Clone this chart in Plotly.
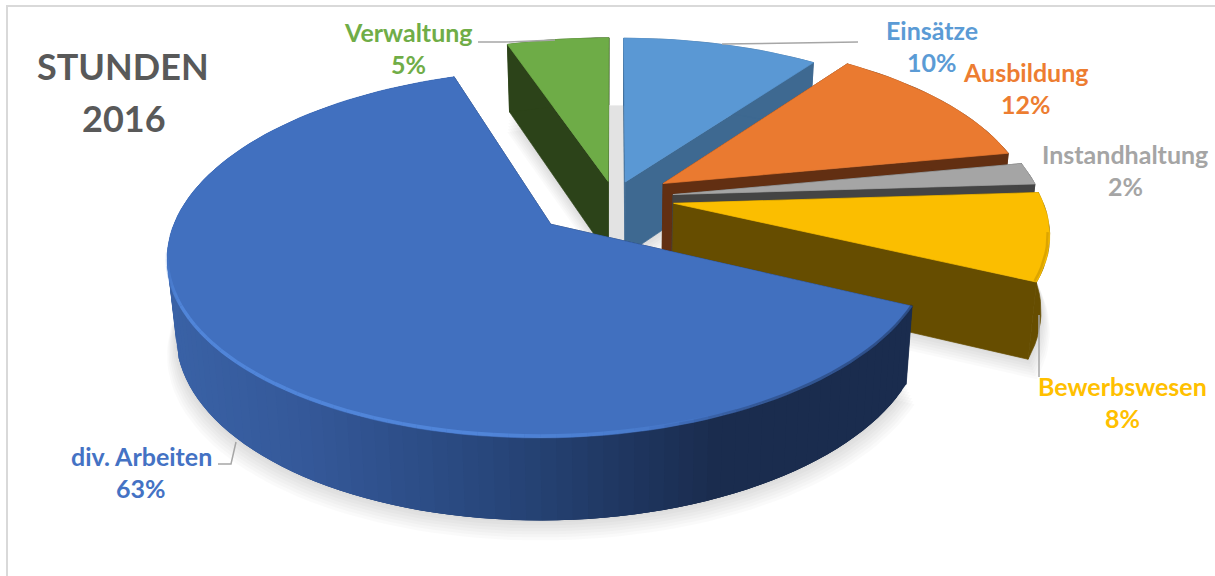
import numpy as np
import plotly.graph_objects as go

categories = ["Einsätze", "Ausbildung", "Instandhaltung", "Bewerbswesen", "div. Arbeiten", "Verwaltung"]
values = [10, 12, 2, 8, 62.8, 5.2]
title_lines = ["STUNDEN", "2016"]
top_colors = ["#5a98d4", "#ea7a30", "#a5a5a5", "#fbbe00", "#4170bf", "#6eac47"]
wall_colors = ["#3e6991", "#622f12", "#444444", "#664d00", "#1a2c4e", "#2c4319"]
label_colors = ["#5b9bd5", "#ed7d31", "#a5a5a5", "#ffc000", "#4472c4", "#70ad47"]
explode = [0.10, 0.16, 0.162, 0.164, 0.225, 0.10]
draw_order = [5, 0, 1, 2, 3, 4]
label_pos = [(932, 30), (1026, 72), (1125, 154), (1122, 386), (141, 456), (408, 32)]

# projection of the tilted pie onto the page
CX, CY, RX, RY, K = 614, 198, 368, 171, 0.157
H, K2, SB = 74, 0.09, 0.98


def project(u, v, bottom=False):
    u, v = np.asarray(u, float), np.asarray(v, float)
    w = 1 + K * v
    x = RX * u / w
    y = -RY * v / w
    if bottom:
        x = x * SB
        y = y + H / (1 + K2 * v)
    return CX + x, CY + y


def hex2rgb(c):
    return np.array([int(c[i:i + 2], 16) for i in (1, 3, 5)], float)


def poly(x, y, color, name=None, lw=0.7):
    x, y = list(x), list(y)
    return go.Scatter(x=x + x[:1], y=y + y[:1], mode="lines", fill="toself", fillcolor=color,
                      line=dict(color=color, width=lw), hoverinfo="skip", showlegend=False,
                      name=name)


def stroke(x, y, color, width):
    return go.Scatter(x=list(x), y=list(y), mode="lines", line=dict(color=color, width=width),
                      hoverinfo="skip", showlegend=False)


total = sum(values)
edges = np.cumsum([0] + values) / total * 2 * np.pi
fig = go.Figure()


def wedge(i, r=1.0, e=None, n=2):
    a0, a1 = edges[i], edges[i + 1]
    mid = (a0 + a1) / 2
    e = explode[i] if e is None else e
    ou, ov = e * np.sin(mid), e * np.cos(mid)
    th = np.linspace(a0, a1, max(6, int((a1 - a0) * 180 / np.pi / n)))
    return ou, ov, ou + r * np.sin(th), ov + r * np.cos(th), th


# soft shadows beneath the slices
for d in (20, 17, 14, 11, 8, 5, 2):
    for i in draw_order:
        ou, ov, ru, rv, th = wedge(i)
        x, y = project(np.r_[ou, ru], np.r_[ov, rv], bottom=True)
        cx0 = x[0]
        x = cx0 + (x - cx0) * (1 + d * 0.0012)
        fig.add_trace(poly(x, y + d, "rgba(0,0,0,0.018)", lw=0))

# grey shadow seen through the gap at the back
gu = np.array([0, 1.05 * np.sin(-0.25), 1.05 * np.sin(0.25)])
gv = np.array([0, 1.05 * np.cos(-0.25), 1.05 * np.cos(0.25)])
gx, gy = project(gu, gv, bottom=True)
fig.add_trace(poly(gx, gy - 10, "#e3e3e3"))

blue_stops_x = [170, 300, 500, 640, 720, 930]
blue_stops_c = ["#3a62a6", "#35599a", "#28467a", "#1f355e", "#1a2c4e", "#1a2c4e"]
stop_rgb = np.array([hex2rgb(c) for c in blue_stops_c])

for i in draw_order:
    ou, ov, ru, rv, th = wedge(i)
    ax, ay = project(ou, ov)
    bx, by = project(ou, ov, bottom=True)
    # radial walls
    for k in (0, -1):
        tx, ty = project(ru[k], rv[k])
        ex, ey = project(ru[k], rv[k], bottom=True)
        fig.add_trace(poly([ax, tx, ex, bx], [ay, ty, ey, by], wall_colors[i]))
    # outer wall
    tx, ty = project(ru, rv)
    ex, ey = project(ru, rv, bottom=True)
    if i == 4:
        n = len(tx)
        # each band overlaps the following ones so no seams show
        for s in range(n - 1):
            mx = (tx[s] + tx[s + 1]) / 2
            rgb = [np.interp(mx, blue_stops_x, stop_rgb[:, c]) for c in range(3)]
            col = "rgb(%d,%d,%d)" % tuple(rgb)
            t = min(s + 3, n - 1)
            fig.add_trace(poly(np.r_[tx[s:t + 1], ex[s:t + 1][::-1]], np.r_[ty[s:t + 1], ey[s:t + 1][::-1]],
                               col, lw=0))
    else:
        fig.add_trace(poly(np.r_[tx, ex[::-1]], np.r_[ty, ey[::-1]], wall_colors[i]))
    # top face
    fig.add_trace(poly(np.r_[ax, tx], np.r_[ay, ty], top_colors[i], name=categories[i]))
    # bevels along the rims
    if i == 4:
        for s in range(len(tx) - 1):
            mx = (tx[s] + tx[s + 1]) / 2
            my = (ty[s] + ty[s + 1]) / 2
            a = float(np.interp(mx, [165, 480, 620, 720], [0.75, 0.75, 0.45, 0.0]))
            a *= float(np.interp(my, [250, 310], [0.0, 1.0]))
            if a > 0.02:
                fig.add_trace(stroke([tx[s], tx[s + 1]], [ty[s] - 2, ty[s + 1] - 2],
                                     "rgba(85,140,225,%.2f)" % a, 3.5))
            d = float(np.interp(mx, [650, 760, 920], [0.0, 0.35, 0.5]))
            if d > 0.02:
                fig.add_trace(stroke([tx[s], tx[s + 1]], [ty[s] - 1, ty[s + 1] - 1],
                                     "rgba(26,44,78,%.2f)" % d, 3))
    if i == 3:
        fig.add_trace(stroke(tx[6:] - 2, ty[6:] - 1, "rgba(150,110,0,0.3)", 2.5))

# leader lines
leaders = [([478, 505, 555], [42, 42, 40]), ([722, 858], [44, 42]),
           ([1039, 1039], [315, 377]), ([218, 231, 236], [464, 464, 442])]
for lx, ly in leaders:
    fig.add_trace(stroke(lx, ly, "#a6a6a6", 1.5))

FONT = "Lato"
ann = []
for name, val, (lx, ly), col in zip(categories, values, label_pos, label_colors):
    for txt, yy in ((name, ly), (f"{round(val)}%", ly + 32)):
        ann.append(dict(x=lx, y=yy, xref="x", yref="y", text=f"<b>{txt}</b>", showarrow=False,
                        font=dict(family=FONT, size=25, color=col), xanchor="center", yanchor="middle"))
for txt, (lx, ly) in zip(title_lines, [(123, 66), (124, 118)]):
    ann.append(dict(x=lx, y=ly, xref="x", yref="y", text=f"<b>{txt}</b>", showarrow=False,
                    font=dict(family=FONT, size=36, color="#595959"), xanchor="center", yanchor="middle"))

fig.update_layout(
    width=1215, height=576, margin=dict(l=0, r=0, t=0, b=0), autosize=False,
    paper_bgcolor="white", plot_bgcolor="white", showlegend=False, annotations=ann,
    xaxis=dict(range=[0, 1215], visible=False, fixedrange=True),
    yaxis=dict(range=[576, 0], visible=False, fixedrange=True),
    shapes=[dict(type="rect", xref="x", yref="y", x0=7, y0=6, x1=1300, y1=700,
                 line=dict(color="#d9d9d9", width=2), layer="below")],
)
fig.write_html("out.html", config=dict(displayModeBar=False),
               post_script="document.body.style.margin='0';document.body.style.overflow='hidden';")
